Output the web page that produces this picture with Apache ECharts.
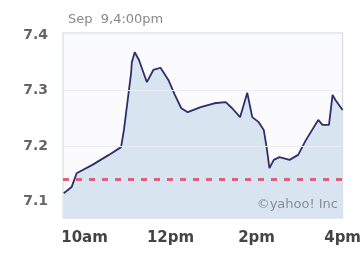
<!DOCTYPE html>
<html>
<head>
<meta charset="utf-8">
<script src="https://cdn.jsdelivr.net/npm/echarts@6/dist/echarts.min.js"></script>
<style>
  html, body { margin: 0; padding: 0; background: #fff; }
  #chart { width: 364px; height: 254px; }
</style>
</head>
<body>
<div id="chart"></div>
<script>
// intraday quotes
const times = ['9:31', '9:42', '9:49', '10:11', '10:34', '10:51', '10:55', '10:59', '11:05', '11:06',
  '11:10', '11:16', '11:27', '11:36', '11:46', '11:57', '12:06', '12:15', '12:24', '12:42',
  '13:01', '13:17', '13:26', '13:37', '13:47', '13:54', '14:03', '14:10', '14:14', '14:18',
  '14:24', '14:32', '14:46', '14:58', '15:09', '15:26', '15:32', '15:41', '15:46', '15:50', '16:00']
const prices = [7.115, 7.126, 7.151, 7.166, 7.184, 7.198, 7.229, 7.270, 7.332, 7.351,
  7.369, 7.355, 7.315, 7.337, 7.341, 7.319, 7.292, 7.268, 7.261, 7.270,
  7.277, 7.279, 7.268, 7.252, 7.296, 7.252, 7.243, 7.229, 7.198, 7.160,
  7.175, 7.180, 7.175, 7.184, 7.211, 7.247, 7.238, 7.238, 7.292, 7.283, 7.265]
const prevClose = 7.14
const yTicks = [7.1, 7.2, 7.3, 7.4]
const xTicks = ['10:00', '12:00', '14:00', '16:00']
const xTickLabels = ['10am', '12pm', '2pm', '4pm']

const toMin = s => { const p = s.split(':'); return +p[0] * 60 + +p[1] }
const data = times.map((t, i) => [toMin(t), prices[i]])

let myChart = echarts.init(document.getElementById('chart'))
myChart.setOption({
  animation: false,
  backgroundColor: '#fff',
  title: {
    text: 'Sep  9,4:00pm',
    left: 63, top: 8,
    textStyle: { fontFamily: 'DejaVu Sans', fontSize: 13, fontWeight: 'normal', color: '#888' }
  },
  graphic: [{
    type: 'text', right: 26, top: 198, z: 100,
    style: { text: '©yahoo! Inc', fontFamily: 'DejaVu Sans', fontSize: 13, fill: '#8a8a9c' }
  }],
  grid: { left: 63, right: 17, top: 33, bottom: 36, show: true, borderColor: '#cdd6e0', borderWidth: 1, backgroundColor: '#fbfbfe' },
  xAxis: {
    type: 'value', min: 570, max: 960,
    axisLine: { show: false }, axisTick: { show: false }, splitLine: { show: false },
    axisLabel: {
      customValues: xTicks.map(toMin),
      formatter: v => xTickLabels[xTicks.map(toMin).indexOf(v)],
      margin: 13, fontFamily: 'DejaVu Sans', fontSize: 15, fontWeight: 'bold', color: '#444'
    }
  },
  yAxis: {
    type: 'value', min: 7.0703, max: 7.4036,
    axisLine: { show: false }, axisTick: { show: false }, splitLine: { show: false },
    axisLabel: {
      customValues: yTicks,
      formatter: v => v.toFixed(1),
      margin: 15, fontFamily: 'DejaVu Sans', fontSize: 14, fontWeight: 'bold', color: '#666'
    }
  },
  series: [{
    type: 'line',
    data: data,
    symbol: 'none',
    lineStyle: { color: '#2e2e6a', width: 1.8 },
    areaStyle: { color: '#d8e5f0', opacity: 1 },
    markLine: {
      silent: true, symbol: 'none', label: { show: false },
      data: [
        { yAxis: prevClose, lineStyle: { color: '#e0607a', type: [6, 7], width: 3 } },
        { yAxis: 7.3, lineStyle: { color: '#ececf4', type: 'solid', width: 1 } },
        { yAxis: 7.2, lineStyle: { color: '#ececf4', type: 'solid', width: 1 } }
      ]
    }
  }]
})
</script>
</body>
</html>
